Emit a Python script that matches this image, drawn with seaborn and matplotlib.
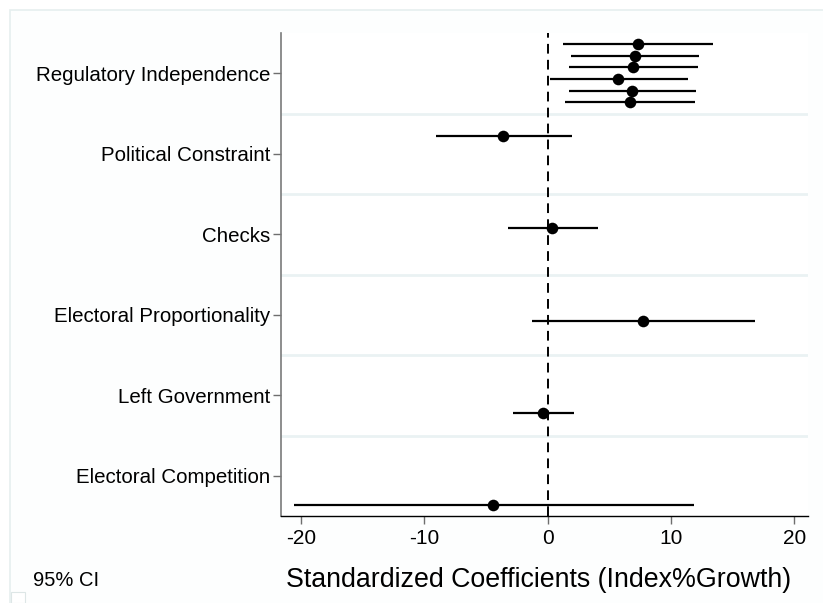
import matplotlib
matplotlib.use("Agg")
import matplotlib.pyplot as plt
import matplotlib.patches as mpatches
import numpy as np
import pandas as pd
import seaborn as sns

# Regressors, top to bottom
variables = ["Regulatory Independence", "Political Constraint", "Checks",
             "Electoral Proportionality", "Left Government", "Electoral Competition"]

# Six models: each reports Regulatory Independence, models 2-6 add one covariate
models = ["Model 1", "Model 2", "Model 3", "Model 4", "Model 5", "Model 6"]

# Regulatory Independence across models 1-6
ri_coef = [7.31, 7.07, 6.95, 5.74, 6.87, 6.69]
ri_low = [1.28, 1.90, 1.74, 0.20, 1.77, 1.45]
ri_high = [13.40, 12.25, 12.22, 11.36, 12.00, 11.98]

# Additional covariates (models 2-6, same order as variables[1:])
cov_coef = [-3.58, 0.37, 7.74, -0.34, -4.40]
cov_low = [-9.07, -3.18, -1.30, -2.81, -20.55]
cov_high = [1.97, 4.07, 16.84, 2.14, 11.86]

x_ticks = [-20, -10, 0, 10, 20]

rows = []
for m, c, lo, hi in zip(models, ri_coef, ri_low, ri_high):
    rows.append((variables[0], m, c, lo, hi))
for v, m, c, lo, hi in zip(variables[1:], models[1:], cov_coef, cov_low, cov_high):
    rows.append((v, m, c, lo, hi))
df = pd.DataFrame(rows, columns=["variable", "model", "coef", "low", "high"])

# vertical position: category slot plus a per-model offset
offset = {m: (i - 2.5) * 0.145 for i, m in enumerate(models)}
df["ypos"] = df["variable"].map({v: i for i, v in enumerate(variables)}) + df["model"].map(offset)

sns.set_theme(style="white")
plt.rcParams["font.family"] = ["Liberation Sans", "DejaVu Sans"]
plt.rcParams["text.color"] = "black"
plt.rcParams["axes.labelcolor"] = "black"

fig = plt.figure(figsize=(8.23, 6.03), dpi=100)
fig.patch.set_facecolor("white")
# faint outer frame of the graph region
frame = mpatches.Rectangle((10 / 823, -0.1), 1.0, 1 - 10 / 603 + 0.1,
                           transform=fig.transFigure, facecolor="#fdfefe",
                           edgecolor="#e6efef", linewidth=1.2, zorder=-10)
fig.patches.append(frame)
# small empty legend key below the CI note
key = mpatches.Rectangle((11 / 823, 0.0), 14 / 823, 11 / 603,
                         transform=fig.transFigure, facecolor="white",
                         edgecolor="#dde6e6", linewidth=0.8, zorder=-5)
fig.patches.append(key)

ax = fig.add_axes([281 / 823, 1 - 516 / 603, (808 - 281) / 823, (516 - 33) / 603])
ax.set_facecolor("white")

# category separators
for b in np.arange(0.5, len(variables) - 0.5, 1.0):
    ax.axhline(b, color="#eaf2f3", lw=2.0, zorder=0)

ax.axvline(0, color="black", lw=1.4, ls=(0, (5, 3.2)), zorder=1)

ax.hlines(df["ypos"], df["low"], df["high"], color="black", lw=1.6, zorder=2)
sns.scatterplot(data=df, x="coef", y="ypos", ax=ax, color="black", s=70,
                edgecolor="black", linewidth=0, zorder=3, legend=False)

ax.set_xlim(-21.6, 21.1)
ax.set_ylim(len(variables) - 0.5, -0.5)
ax.set_xticks(x_ticks)
ax.set_xticklabels([str(t) for t in x_ticks], fontsize=15)
ax.set_yticks(range(len(variables)))
ax.set_yticklabels(variables, fontsize=14.8)
ax.tick_params(axis="both", which="both", direction="out", length=6, width=1,
               color="#6e6e6e", labelcolor="black", pad=2, bottom=True, left=True)
ax.tick_params(axis="x", pad=3)

for side in ["top", "right"]:
    ax.spines[side].set_visible(False)
ax.spines["left"].set_color("#7a7a7a")
ax.spines["bottom"].set_color("black")
ax.spines["left"].set_linewidth(1.2)
ax.spines["bottom"].set_linewidth(1.0)

ax.set_xlabel("Standardized Coefficients (Index%Growth)", fontsize=19.3)
ax.xaxis.set_label_coords((539 - 281) / 527, -0.106)
ax.set_ylabel("")

fig.text(33 / 823, 1 - 581 / 603, "95% CI", fontsize=14.5, va="center", ha="left")

fig.savefig("out.png", dpi=100, facecolor="white")
